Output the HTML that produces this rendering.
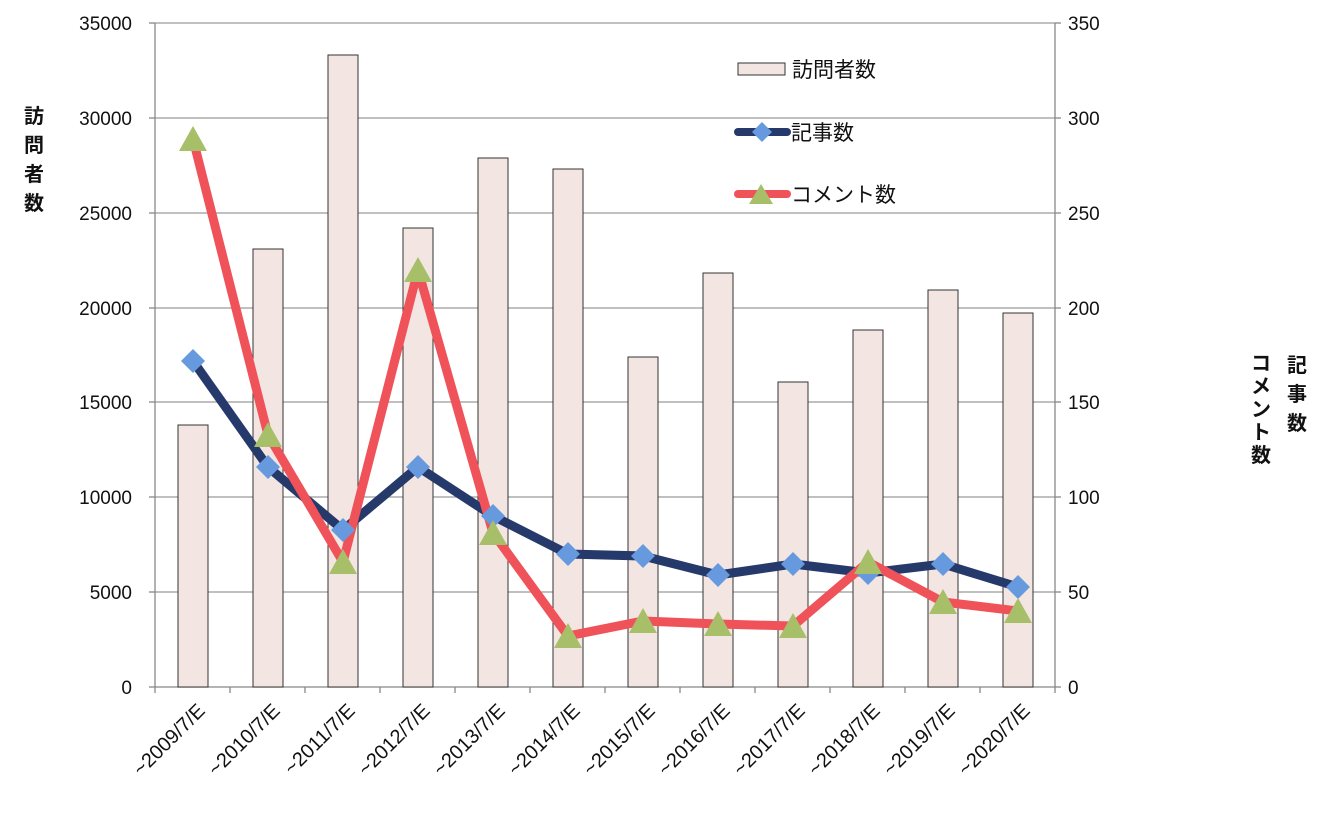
<!DOCTYPE html>
<html><head><meta charset="utf-8"><style>html,body{margin:0;padding:0;background:#fff}svg{display:block}</style></head><body>
<svg width="1331" height="821" xmlns="http://www.w3.org/2000/svg" font-family="Liberation Sans, Noto Sans CJK JP, sans-serif">
<g stroke="#9a9a9a" stroke-width="1.3">
<line x1="155" y1="23" x2="1055" y2="23"/><line x1="155" y1="118" x2="1055" y2="118"/><line x1="155" y1="213" x2="1055" y2="213"/><line x1="155" y1="308" x2="1055" y2="308"/><line x1="155" y1="402" x2="1055" y2="402"/><line x1="155" y1="497" x2="1055" y2="497"/><line x1="155" y1="592" x2="1055" y2="592"/>
</g>
<g stroke="#888" stroke-width="1.3">
<line x1="155" y1="23" x2="155" y2="687"/><line x1="1055" y1="23" x2="1055" y2="687"/><line x1="155" y1="687" x2="1055" y2="687"/>
<line x1="149" y1="23" x2="155" y2="23"/><line x1="149" y1="118" x2="155" y2="118"/><line x1="149" y1="213" x2="155" y2="213"/><line x1="149" y1="308" x2="155" y2="308"/><line x1="149" y1="402" x2="155" y2="402"/><line x1="149" y1="497" x2="155" y2="497"/><line x1="149" y1="592" x2="155" y2="592"/><line x1="149" y1="687" x2="155" y2="687"/>
<line x1="1055" y1="23" x2="1061" y2="23"/><line x1="1055" y1="118" x2="1061" y2="118"/><line x1="1055" y1="213" x2="1061" y2="213"/><line x1="1055" y1="308" x2="1061" y2="308"/><line x1="1055" y1="402" x2="1061" y2="402"/><line x1="1055" y1="497" x2="1061" y2="497"/><line x1="1055" y1="592" x2="1061" y2="592"/><line x1="1055" y1="687" x2="1061" y2="687"/>
<line x1="230" y1="687" x2="230" y2="693"/><line x1="305" y1="687" x2="305" y2="693"/><line x1="380" y1="687" x2="380" y2="693"/><line x1="455" y1="687" x2="455" y2="693"/><line x1="530" y1="687" x2="530" y2="693"/><line x1="605" y1="687" x2="605" y2="693"/><line x1="680" y1="687" x2="680" y2="693"/><line x1="755" y1="687" x2="755" y2="693"/><line x1="830" y1="687" x2="830" y2="693"/><line x1="905" y1="687" x2="905" y2="693"/><line x1="980" y1="687" x2="980" y2="693"/><line x1="155" y1="687" x2="155" y2="693"/><line x1="1055" y1="687" x2="1055" y2="693"/>
</g>
<g fill="#f3e6e2" stroke="#333" stroke-width="1">
<rect x="178" y="425" width="30" height="262"/><rect x="253" y="249" width="30" height="438"/><rect x="328" y="55" width="30" height="632"/><rect x="403" y="228" width="30" height="459"/><rect x="478" y="158" width="30" height="529"/><rect x="553" y="169" width="30" height="518"/><rect x="628" y="357" width="30" height="330"/><rect x="703" y="273" width="30" height="414"/><rect x="778" y="382" width="30" height="305"/><rect x="853" y="330" width="30" height="357"/><rect x="928" y="290" width="30" height="397"/><rect x="1003" y="313" width="30" height="374"/>
</g>
<polyline fill="none" stroke="#25396b" stroke-width="9" stroke-linejoin="round" points="193,361 268,467 343,530 418,467 493,516 568,554 643,556 718,575 793,564 868,573 943,564 1018,587"/>
<polyline fill="none" stroke="#f0525a" stroke-width="9" stroke-linejoin="round" points="193,139 268,435 343,562 418,270 493,533 568,636 643,621 718,624 793,626 868,562 943,602 1018,611"/>
<g fill="#6699dd">
<path d="M193,349l12,12l-12,12l-12,-12z"/><path d="M268,455l12,12l-12,12l-12,-12z"/><path d="M343,518l12,12l-12,12l-12,-12z"/><path d="M418,455l12,12l-12,12l-12,-12z"/><path d="M493,504l12,12l-12,12l-12,-12z"/><path d="M568,542l12,12l-12,12l-12,-12z"/><path d="M643,544l12,12l-12,12l-12,-12z"/><path d="M718,563l12,12l-12,12l-12,-12z"/><path d="M793,552l12,12l-12,12l-12,-12z"/><path d="M868,561l12,12l-12,12l-12,-12z"/><path d="M943,552l12,12l-12,12l-12,-12z"/><path d="M1018,575l12,12l-12,12l-12,-12z"/>
</g>
<g fill="#a8bf6a">
<path d="M193,126l14,25h-28z"/><path d="M268,422l14,25h-28z"/><path d="M343,549l14,25h-28z"/><path d="M418,257l14,25h-28z"/><path d="M493,520l14,25h-28z"/><path d="M568,623l14,25h-28z"/><path d="M643,608l14,25h-28z"/><path d="M718,611l14,25h-28z"/><path d="M793,613l14,25h-28z"/><path d="M868,549l14,25h-28z"/><path d="M943,589l14,25h-28z"/><path d="M1018,598l14,25h-28z"/>
</g>
<g font-size="19" fill="#111" text-anchor="end">
<text x="132" y="30">35000</text><text x="132" y="125">30000</text><text x="132" y="220">25000</text><text x="132" y="315">20000</text><text x="132" y="409">15000</text><text x="132" y="504">10000</text><text x="132" y="599">5000</text><text x="132" y="694">0</text>
</g>
<g font-size="19" fill="#111">
<text x="1068" y="30">350</text><text x="1068" y="125">300</text><text x="1068" y="220">250</text><text x="1068" y="315">200</text><text x="1068" y="409">150</text><text x="1068" y="504">100</text><text x="1068" y="599">50</text><text x="1068" y="694">0</text>
</g>
<g font-size="20" fill="#111" text-anchor="end">
<text transform="translate(206,712) rotate(-45)">~2009/7/E</text><text transform="translate(281,712) rotate(-45)">~2010/7/E</text><text transform="translate(356,712) rotate(-45)">~2011/7/E</text><text transform="translate(431,712) rotate(-45)">~2012/7/E</text><text transform="translate(506,712) rotate(-45)">~2013/7/E</text><text transform="translate(581,712) rotate(-45)">~2014/7/E</text><text transform="translate(656,712) rotate(-45)">~2015/7/E</text><text transform="translate(731,712) rotate(-45)">~2016/7/E</text><text transform="translate(806,712) rotate(-45)">~2017/7/E</text><text transform="translate(881,712) rotate(-45)">~2018/7/E</text><text transform="translate(956,712) rotate(-45)">~2019/7/E</text><text transform="translate(1031,712) rotate(-45)">~2020/7/E</text>
</g>
<g font-size="20" font-weight="bold" fill="#111" text-anchor="middle">
<text x="34" y="123">訪</text><text x="34" y="152">問</text><text x="34" y="181">者</text><text x="34" y="210">数</text>
<text x="1297" y="372">記</text><text x="1297" y="401">事</text><text x="1297" y="430">数</text>
<text x="1261" y="370">コ</text><text x="1261" y="393">メ</text><text x="1261" y="416">ン</text><text x="1261" y="439">ト</text><text x="1261" y="462">数</text>
</g>
<rect x="738" y="63" width="47" height="12" fill="#f3e6e2" stroke="#333" stroke-width="1"/>
<line x1="738" y1="132" x2="787" y2="132" stroke="#25396b" stroke-width="8" stroke-linecap="round"/>
<path d="M762,122l10,10l-10,10l-10,-10z" fill="#6699dd"/>
<line x1="738" y1="194" x2="787" y2="194" stroke="#f0525a" stroke-width="8" stroke-linecap="round"/>
<path d="M761,184l12,20h-24z" fill="#a8bf6a"/>
<g font-size="21" fill="#111">
<text x="792" y="77">訪問者数</text><text x="791" y="140">記事数</text><text x="791" y="202">コメント数</text>
</g>
</svg>
</body></html>
